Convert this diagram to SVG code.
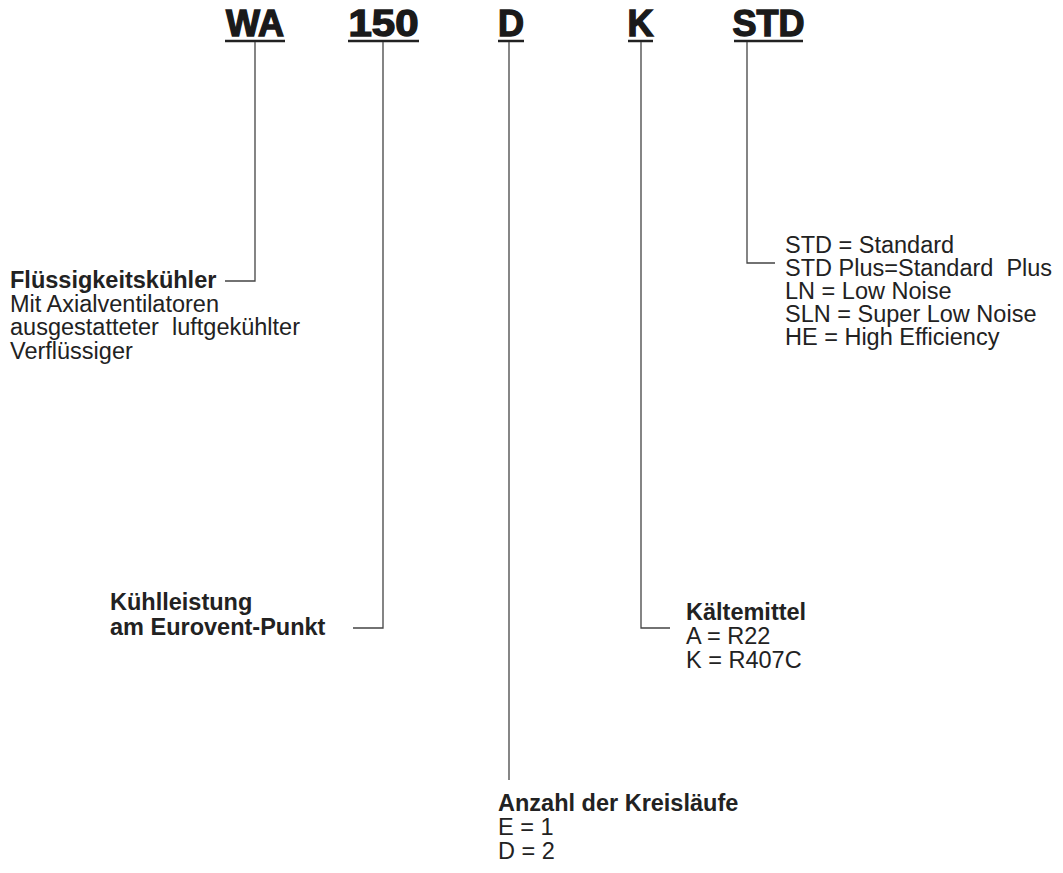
<svg xmlns="http://www.w3.org/2000/svg" width="1063" height="873" viewBox="0 0 1063 873">
<style>
.h{font-family:"Liberation Sans",Arial,sans-serif;font-weight:900;font-size:36px;fill:#1a1a1a;stroke:#1a1a1a;stroke-width:1.4;text-anchor:middle}
.t{font-family:"Liberation Sans",Arial,sans-serif;font-size:23.5px;fill:#222}
.b{font-weight:bold}
.u{stroke:#222;stroke-width:2.5;fill:none}
.c{stroke:#444;stroke-width:1.3;fill:none}
</style>
<rect width="1063" height="873" fill="#fff"/>
<g id="code-WA"><text class="h" x="255" y="36">WA</text><line class="u" x1="225" y1="41" x2="285" y2="41"/></g>
<g id="code-150"><text class="h" x="383.5" y="36" textLength="70" lengthAdjust="spacingAndGlyphs">150</text><line class="u" x1="348" y1="41" x2="419" y2="41"/></g>
<g id="code-D"><text class="h" x="511" y="36">D</text><line class="u" x1="498" y1="41" x2="524" y2="41"/></g>
<g id="code-K"><text class="h" x="640.5" y="36">K</text><line class="u" x1="628" y1="41" x2="653" y2="41"/></g>
<g id="code-STD"><text class="h" x="768.5" y="36">STD</text><line class="u" x1="734" y1="41" x2="803" y2="41"/></g>
<g id="connectors">
<polyline class="c" points="255,42 255,281 225,281"/>
<polyline class="c" points="383,42 383,628 353,628"/>
<polyline class="c" points="509,42 509,780"/>
<polyline class="c" points="641,42 641,628 670,628"/>
<polyline class="c" points="747,42 747,263 775,263"/>
</g>
<g id="label-typ" class="t">
<text x="10" y="288" class="b">Flüssigkeitskühler</text>
<text x="10" y="312">Mit Axialventilatoren</text>
<text x="10" y="335" xml:space="preserve">ausgestatteter  luftgekühlter</text>
<text x="10" y="359">Verflüssiger</text>
</g>
<g id="label-leistung" class="t b">
<text x="110" y="610">Kühlleistung</text>
<text x="110" y="635">am Eurovent-Punkt</text>
</g>
<g id="label-kaelte" class="t">
<text x="686" y="620" class="b">Kältemittel</text>
<text x="686" y="644">A = R22</text>
<text x="686" y="668">K = R407C</text>
</g>
<g id="label-kreis" class="t">
<text x="498" y="811" class="b">Anzahl der Kreisläufe</text>
<text x="498" y="835">E = 1</text>
<text x="498" y="859">D = 2</text>
</g>
<g id="label-version" class="t">
<text x="785" y="253">STD = Standard</text>
<text x="785" y="276" xml:space="preserve">STD Plus=Standard  Plus</text>
<text x="785" y="299">LN = Low Noise</text>
<text x="785" y="322">SLN = Super Low Noise</text>
<text x="785" y="345">HE = High Efficiency</text>
</g>
</svg>
